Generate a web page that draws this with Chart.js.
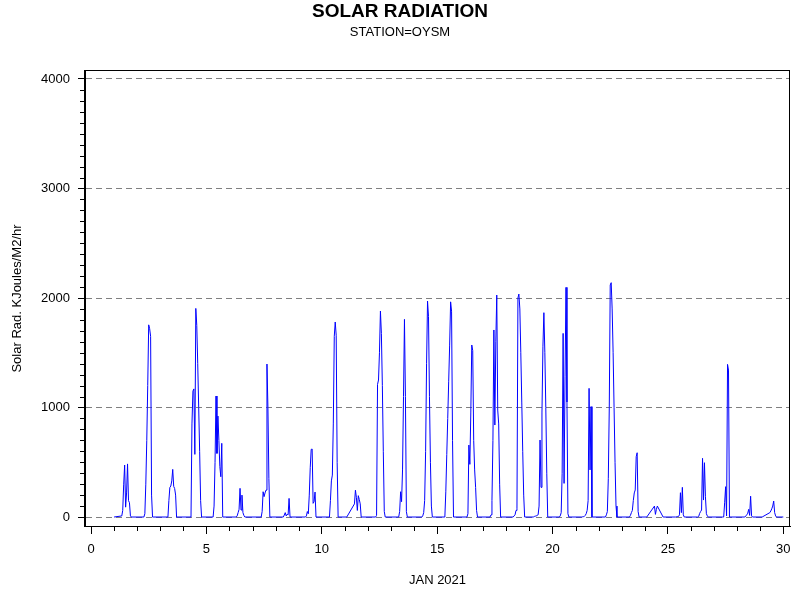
<!DOCTYPE html>
<html>
<head>
<meta charset="utf-8">
<title>Solar Radiation</title>
<script src="https://cdn.jsdelivr.net/npm/chart.js@4/dist/chart.umd.min.js"></script>
<style>
  body { margin: 0; background: #fff; }
</style>
</head>
<body>
<canvas id="myChart" width="800" height="600"></canvas>
<script>
// day of month (JAN 2021)
const days = [1, 2, 3, 4, 5, 6, 7, 8, 9, 10, 11, 12, 13, 14, 15,
  16, 17, 18, 19, 20, 21, 22, 23, 24, 25, 26, 27, 28, 29];

// hour of the first reading listed for each day
const firstHour = [0, 7, 8, 8, 7, 7, 9, 8, 7, 8, 2, 8, 8, 8, 8,
  7, 7, 7, 4, 7, 6, 7, 8, 2, 8, 7, 9, 8, 2];

// hourly readings, KJoules/M2/hr (null = no reading)
const readings = [
  [0, null, null, null, null, null, null, null, 10, 60, 300, 475, 90, 220, 485, 150, 130, 10, 0],
  [0, 30, 300, 700, 1200, 1755, 1720, 1650, 200, 0],
  [0, 150, 270, 283, 330, 435, 280, 260, 200, 0],
  [0, 850, 1150, 1170, 572, 1905, 1750, 1400, 1000, 600, 150, 0],
  [0, 100, 500, 1105, 581, 922, 700, 460, 368, 673, 0],
  [0, 10, 40, 70, 262, 64, 200, 40, 15, 0],
  [0, 50, 231, 186, 220, 246, 1397, 1000, 350, 0],
  [0, 18, 40, 10, 25, 20, 170, 0],
  [0, 10, 50, 30, 200, 450, 618, 621, 125, 140, 228, 0],
  [0, 150, 330, 383, 850, 1650, 1781, 1660, 500, 0],
  [0, null, null, null, null, null, null, null, 120, 245, 180, 60, 195, 160, 120, 0],
  [0, 15, 1211, 1251, 1500, 1881, 1677, 1200, 600, 50, 0],
  [0, 50, 231, 140, 430, 1100, 1805, 1100, 50, 0],
  [0, 10, 40, 150, 600, 1400, 1972, 1830, 1100, 500, 100, 0],
  [0, 230, 570, 900, 1240, 1570, 1965, 1880, 700, 0],
  [0, 30, 657, 481, 950, 1571, 1520, 700, 430, 270, 60, 0],
  [0, 20, 150, 700, 1708, 840, 1600, 2027, 977, 850, 300, 0],
  [0, 10, 20, 60, 80, 2000, 2036, 1900, 1500, 1050, 600, 200, 0],
  [0, 5, 8, 10, 15, 20, 100, 703, 271, 950, 1560, 1866, 1500, 1000, 400, 0],
  [0, 10, 40, 400, 1677, 307, 1280, 2097, 1050, 30, 0],
  [0, 2, 3, 5, 15, 30, 60, 150, 1175, 430, 1008, 0],
  [0, 20, 50, 350, 1000, 2119, 2140, 1900, 1500, 1000, 500, 100, 0],
  [0, 15, 40, 60, 150, 220, 247, 551, 587, 50, 0],
  [0, null, null, null, null, null, null, null, 100, 24, 70, 100, null, null, null, null, null, 0],
  [0, 3, 5, 5, 20, 222, 40, 271, 20, 0],
  [0, 5, 33, 50, 64, 536, 155, 496, 185, 30, 10, 0],
  [0, 0, 130, 277, 10, 1394, 1342, 0],
  [0, 10, 20, 35, 70, 15, 190, 10, 0],
  [0, null, null, null, null, null, null, null, 40, 55, 75, 100, 146, 40, 10, 0, null, null, null, null, null, null, 0]
];

const xTicks = [0, 5, 10, 15, 20, 25, 30];
const yTicks = [0, 1000, 2000, 3000, 4000];

Chart.defaults.font.family = "'Liberation Sans', Arial, sans-serif";
Chart.defaults.color = "#000";

let points = [];
days.forEach((day, i) => {
  readings[i].forEach((value, k) => {
    points.push({ x: day + (firstHour[i] + k) / 24, y: value });
  });
});

// frame round the plot and the small ticks between the labelled ones
const framePlugin = {
  id: "frame",
  afterDraw(chart) {
    const ctx = chart.ctx;
    const area = chart.chartArea;
    const xs = chart.scales.x;
    const ys = chart.scales.y;
    ctx.save();
    ctx.strokeStyle = "#000";
    ctx.lineWidth = 1;
    ctx.strokeRect(area.left - 0.5, area.top - 0.5, area.right - area.left, area.bottom - area.top + 1);
    ctx.beginPath();
    for (let d = 0; d <= 30; d++) {
      if (d % 5 === 0) continue;
      const px = Math.round(xs.getPixelForValue(d)) + 0.5;
      ctx.moveTo(px, area.bottom);
      ctx.lineTo(px, area.bottom + 5);
    }
    for (let v = 0; v <= 4000; v += 100) {
      if (v % 1000 === 0) continue;
      const py = Math.round(ys.getPixelForValue(v)) + 0.5;
      ctx.moveTo(area.left - 5, py);
      ctx.lineTo(area.left, py);
    }
    ctx.stroke();
    ctx.restore();
  },
};

const config = {
  type: "line",
  data: {
    datasets: [
      {
        label: "Solar Rad.",
        data: points,
        borderColor: "#0000ff",
        backgroundColor: "#0000ff",
        borderWidth: 1,
        pointRadius: 0,
        tension: 0,
        spanGaps: true,
      },
    ],
  },
  options: {
    responsive: false,
    animation: false,
    layout: {
      padding: { left: 10, right: 10, top: 0, bottom: 0 },
    },
    plugins: {
      legend: { display: false },
      tooltip: { enabled: false },
      title: {
        display: true,
        text: "SOLAR RADIATION",
        font: { size: 19, weight: "bold" },
        padding: { top: 0, bottom: 2 },
      },
      subtitle: {
        display: true,
        text: "STATION=OYSM",
        font: { size: 13 },
        color: "#000",
        padding: { top: 0, bottom: 30.6 },
      },
    },
    scales: {
      x: {
        type: "linear",
        min: -0.26,
        max: 30.29,
        afterBuildTicks: (scale) => {
          scale.ticks = xTicks.map((v) => ({ value: v }));
        },
        afterFit: (scale) => {
          scale.height = 74;
        },
        ticks: {
          font: { size: 13 },
          padding: 8,
          maxRotation: 0,
          autoSkip: false,
          callback: (value) => String(value),
        },
        grid: {
          drawOnChartArea: false,
          tickLength: 8,
          tickColor: "#000",
        },
        border: { display: true, color: "#000" },
        title: {
          display: true,
          text: "JAN 2021",
          font: { size: 13 },
          padding: { top: 0, bottom: 12 },
        },
      },
      y: {
        type: "linear",
        min: -82,
        max: 4073,
        afterBuildTicks: (scale) => {
          scale.ticks = yTicks.map((v) => ({ value: v }));
        },
        afterFit: (scale) => {
          scale.width = 75;
        },
        ticks: {
          font: { size: 13 },
          padding: 8,
          autoSkip: false,
          callback: (value) => String(value),
        },
        grid: {
          color: "#808080",
          tickColor: "#000",
          tickLength: 7,
          tickBorderDash: [],
        },
        border: { display: true, color: "#000", dash: [6, 4] },
        title: {
          display: true,
          text: "Solar Rad. KJoules/M2/hr",
          font: { size: 13 },
          padding: { top: 0, bottom: 0 },
        },
      },
    },
  },
  plugins: [framePlugin],
};

const myChart = new Chart(document.getElementById("myChart"), config);
</script>
</body>
</html>
